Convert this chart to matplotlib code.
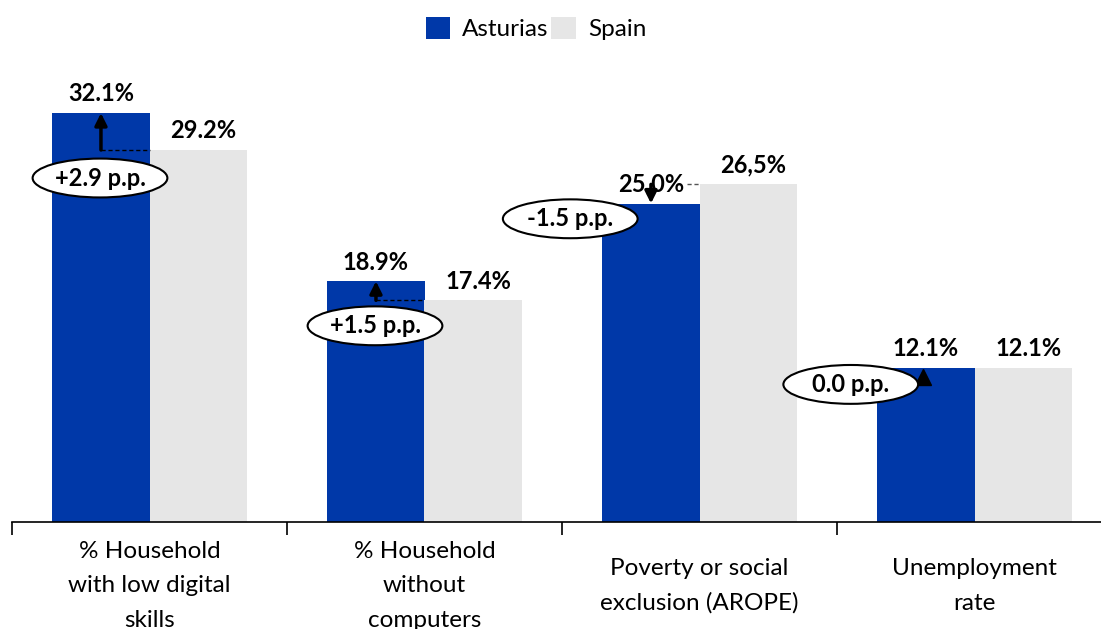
import numpy as np
import matplotlib
matplotlib.use("Agg")
import matplotlib.pyplot as plt
from matplotlib.patches import Ellipse

plt.rcParams['font.family'] = ['Lato', 'DejaVu Sans']

categories = ["% Household\nwith low digital\nskills", "% Household\nwithout\ncomputers",
              "Poverty or social\nexclusion (AROPE)", "Unemployment\nrate"]
asturias = [32.1, 18.9, 25.0, 12.1]
spain = [29.2, 17.4, 26.5, 12.1]
asturias_labels = ["32.1%", "18.9%", "25,0%", "12.1%"]
spain_labels = ["29.2%", "17.4%", "26,5%", "12.1%"]
diff_labels = ["+2.9 p.p.", "+1.5 p.p.", "-1.5 p.p.", "0.0 p.p."]

BLUE = "#0038A8"
GREY = "#E6E6E6"
BAR_W = 0.353
# ellipse placement: (x offset from category centre, y in data units)
ELL_POS = [(-0.18, 27.0), (-0.18, 15.4), (-0.47, 23.8), (-0.45, 10.8)]

fig = plt.figure(figsize=(11.01, 6.29), dpi=100)
ax = fig.add_axes([12 / 1101, 107 / 629, 1089 / 1101, 462 / 629])
x = np.arange(len(categories))
ax.bar(x - BAR_W / 2, asturias, BAR_W, color=BLUE, label="Asturias", zorder=1)
ax.bar(x + BAR_W / 2, spain, BAR_W, color=GREY, label="Spain", zorder=1)
ax.set_xlim(-0.5, -0.5 + 1089 / 275)
ax.set_ylim(0, 462 / 12.74)

for i in range(len(categories)):
    xa = x[i] - BAR_W / 2
    xs = x[i] + BAR_W / 2
    ax.text(xa, asturias[i] + 0.6, asturias_labels[i], ha="center", va="bottom",
            fontsize=17, fontweight="bold", zorder=3)
    ax.text(xs + 0.02, spain[i] + 0.6, spain_labels[i], ha="center", va="bottom",
            fontsize=17, fontweight="bold", zorder=3)
    d = asturias[i] - spain[i]
    if abs(d) > 0.05:
        if d > 0:
            ax.plot([xa, xs - BAR_W / 2], [spain[i], spain[i]], color="black",
                    ls=(0, (3, 2)), lw=1, zorder=2)
        else:
            ax.plot([xa + 0.13, xs - BAR_W / 2], [spain[i], spain[i]], color="#555555",
                    ls=(0, (3, 2)), lw=1, zorder=2)
        ax.annotate("", xy=(xa, asturias[i]), xytext=(xa, spain[i]),
                    arrowprops=dict(arrowstyle="-|>", lw=2.5, color="black",
                                    mutation_scale=18, shrinkA=0, shrinkB=0), zorder=4)
    else:
        ax.plot(xa - 0.01, asturias[i] - 0.7, marker="^", color="black", ms=11, zorder=4)
    ex, ey = ELL_POS[i]
    ax.add_patch(Ellipse((x[i] + ex, ey), 0.49, 3.05, facecolor="white",
                         edgecolor="black", lw=1.5, zorder=5))
    ax.text(x[i] + ex, ey, diff_labels[i], ha="center", va="center",
            fontsize=17, fontweight="bold", zorder=6)

for s in ["top", "left", "right"]:
    ax.spines[s].set_visible(False)
ax.spines["bottom"].set_linewidth(1.2)
ax.set_yticks([])
ax.set_xticks(x)
ax.set_xticklabels(categories, fontsize=17.5, linespacing=1.78, va="center")
ax.tick_params(axis="x", which="major", length=0, pad=46)
ax.set_xticks([-0.5, 0.5, 1.5, 2.5], minor=True)
ax.tick_params(axis="x", which="minor", length=9.5, width=1.2, direction="out")

fig.legend(loc="upper center", bbox_to_anchor=(536 / 1101, 1.0), ncol=2, frameon=False,
           fontsize=17.5, handlelength=1.0, handleheight=1.0, columnspacing=0.1,
           handletextpad=0.5, borderaxespad=0.3)

fig.savefig("out.png", dpi=100)
